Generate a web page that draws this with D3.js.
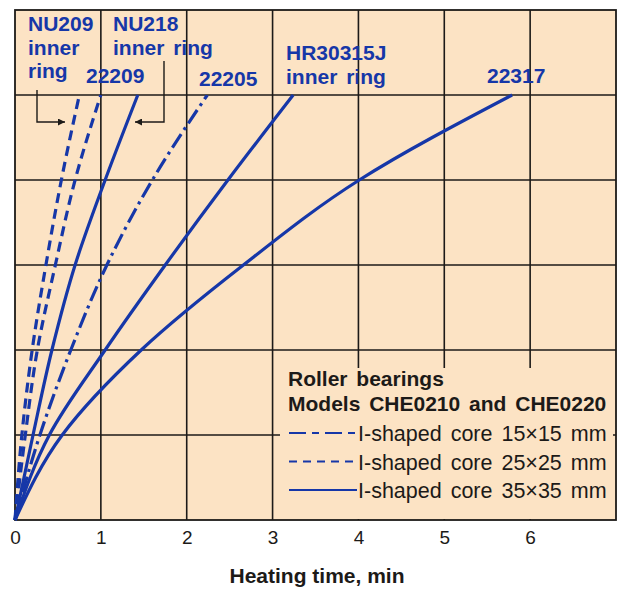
<!DOCTYPE html>
<html>
<head>
<meta charset="utf-8">
<script src="https://cdn.jsdelivr.net/npm/d3@7"></script>
<style>
  body { margin: 0; background: #fff; }
  svg text { font-family: "Liberation Sans", Arial, Helvetica, sans-serif; }
</style>
</head>
<body>
<div id="chart"></div>
<script>
// heating curves: time (min) needed to reach each grid level of temperature rise
var levels     = [0, 1, 2, 3, 4, 5];
var tNU209     = [0, 0.08, 0.20, 0.36, 0.54, 0.75];
var t22209     = [0, 0.12, 0.26, 0.47, 0.70, 1.00];
var tNU218     = [0, 0.21, 0.43, 0.70, 1.05, 1.43];
var t22205     = [0, 0.29, 0.65, 1.07, 1.60, 2.24];
var tHR30315J  = [0, 0.40, 1.05, 1.75, 2.48, 3.24];
var t22317     = [0, 0.55, 1.47, 2.66, 4.01, 5.79];

var xTicks     = [0, 1, 2, 3, 4, 5, 6];
var legendHead = ["Roller bearings", "Models CHE0210 and CHE0220"];
var coreNames  = ["I-shaped core 15\u00d715 mm", "I-shaped core 25\u00d725 mm", "I-shaped core 35\u00d735 mm"];
var xTitle     = "Heating time, min";

var blue  = "#1637a8";
var cream = "#fce3c4";
var ink   = "#1c1a18";

var W = 618, H = 591;
var x = d3.scaleLinear().domain([0, 7]).range([15, 616]);
var y = d3.scaleLinear().domain([0, 6]).range([520, 10]);

// dash style per core size
var dashes = ["16,5,3,5", "10,6", null];

var series = [
  { name: "NU209",    t: tNU209,    core: 1 },
  { name: "22209",    t: t22209,    core: 1 },
  { name: "NU218",    t: tNU218,    core: 2 },
  { name: "22205",    t: t22205,    core: 0 },
  { name: "HR30315J", t: tHR30315J, core: 2 },
  { name: "22317",    t: t22317,    core: 2 }
];

var svg = d3.select("#chart").append("svg")
    .attr("width", W)
    .attr("height", H);

svg.append("defs").append("marker")
    .attr("id", "arr")
    .attr("viewBox", "0 0 10 10")
    .attr("refX", 10).attr("refY", 5)
    .attr("markerWidth", 9).attr("markerHeight", 7)
    .attr("markerUnits", "userSpaceOnUse")
    .attr("orient", "auto")
  .append("path")
    .attr("d", "M0,0L10,5L0,10z")
    .attr("fill", ink);

// plot background
svg.append("rect")
    .attr("x", x(0)).attr("y", y(6))
    .attr("width", x(7) - x(0)).attr("height", y(0) - y(6))
    .attr("fill", cream);

// grid
var grid = svg.append("g").attr("stroke", ink).attr("stroke-width", 1.6);
grid.selectAll("line.v").data(d3.range(1, 7)).enter().append("line")
    .attr("x1", d => x(d)).attr("x2", d => x(d))
    .attr("y1", y(0)).attr("y2", y(6));
grid.selectAll("line.h").data(d3.range(1, 6)).enter().append("line")
    .attr("x1", x(0)).attr("x2", x(7))
    .attr("y1", d => y(d)).attr("y2", d => y(d));

// legend panel hides the grid behind it
var lg = svg.append("g");
lg.append("rect")
    .attr("x", 280).attr("y", 368)
    .attr("width", 333).attr("height", 151)
    .attr("fill", cream);

// frame
svg.append("rect")
    .attr("x", x(0)).attr("y", y(6))
    .attr("width", x(7) - x(0)).attr("height", y(0) - y(6))
    .attr("fill", "none")
    .attr("stroke", ink)
    .attr("stroke-width", 1.8);

// curves (smooth along the temperature direction)
var line = d3.line()
    .x(d => x(d[0]))
    .y(d => y(d[1]))
    .curve(d3.curveMonotoneY);

svg.append("g").selectAll("path").data(series).enter().append("path")
    .attr("d", s => line(s.t.map((t, i) => [t, levels[i]])))
    .attr("fill", "none")
    .attr("stroke", blue)
    .attr("stroke-width", 3.2)
    .attr("stroke-dasharray", s => dashes[s.core]);

// curve labels
var labels = [
  { lines: ["NU209", "inner", "ring"], x: 28,  y: 31 },
  { lines: ["NU218", "inner ring"],    x: 113, y: 31 },
  { lines: ["22209"],                  x: 86,  y: 83 },
  { lines: ["22205"],                  x: 199, y: 86 },
  { lines: ["HR30315J", "inner ring"], x: 286, y: 60 },
  { lines: ["22317"],                  x: 487, y: 83 }
];
var lab = svg.append("g")
    .attr("fill", blue)
    .attr("font-size", 21)
    .attr("font-weight", "bold")
    .style("word-spacing", "3px");
labels.forEach(function (l) {
  l.lines.forEach(function (s, i) {
    lab.append("text")
        .attr("x", l.x)
        .attr("y", l.y + i * 23.5)
        .text(s);
  });
});

// arrows to the inner ring curves
svg.append("path")
    .attr("d", "M37,90V122H65")
    .attr("fill", "none").attr("stroke", ink).attr("stroke-width", 1.4)
    .attr("marker-end", "url(#arr)");
svg.append("path")
    .attr("d", "M164,61V122H135")
    .attr("fill", "none").attr("stroke", ink).attr("stroke-width", 1.4)
    .attr("marker-end", "url(#arr)");

// legend
lg.selectAll("text.head").data(legendHead).enter().append("text")
    .attr("x", 288)
    .attr("y", (d, i) => 386 + i * 25)
    .attr("font-size", 21)
    .attr("font-weight", "bold")
    .attr("fill", ink)
    .style("word-spacing", "3px")
    .text(d => d);

var rows = lg.selectAll("g.row").data(coreNames).enter().append("g")
    .attr("transform", (d, i) => "translate(0," + (441 + i * 28.5) + ")");
rows.append("line")
    .attr("x1", 289).attr("x2", 357)
    .attr("y1", -8).attr("y2", -8)
    .attr("stroke", blue)
    .attr("stroke-width", 2)
    .attr("stroke-dasharray", (d, i) => i == 0 ? "17,6,7,6" : i == 1 ? "8,6" : null);
rows.append("text")
    .attr("x", 358)
    .attr("font-size", 21.5)
    .attr("fill", ink)
    .style("word-spacing", "3px")
    .text(d => d);

// x axis labels
var ax = svg.append("g")
    .attr("transform", "translate(0," + y(0) + ")")
    .call(d3.axisBottom(x).tickValues(xTicks).tickFormat(d3.format("d"))
      .tickSize(0).tickPadding(11));
ax.select(".domain").remove();
ax.selectAll("text")
    .attr("font-size", 19)
    .attr("fill", ink)
    .style("font-family", "'Liberation Sans', Arial, sans-serif");

svg.append("text")
    .attr("x", 317).attr("y", 583)
    .attr("text-anchor", "middle")
    .attr("font-size", 21)
    .attr("font-weight", "bold")
    .attr("fill", ink)
    .text(xTitle);
</script>
</body>
</html>
